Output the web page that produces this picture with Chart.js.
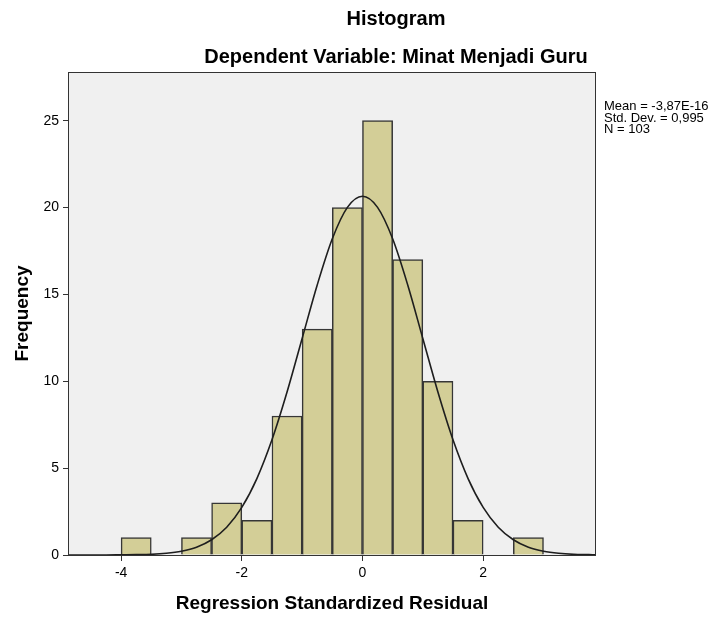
<!DOCTYPE html>
<html>
<head>
<meta charset="utf-8">
<script src="https://cdn.jsdelivr.net/npm/chart.js@4.4.0/dist/chart.umd.min.js"></script>
<style>
body{margin:0;background:#fff;}
canvas{display:block;}
</style>
</head>
<body>
<canvas id="histChart" width="717" height="618"></canvas>
<script>
// bin centres (width 0.5) and frequencies
const binCenters=[-3.75,-3.25,-2.75,-2.25,-1.75,-1.25,-0.75,-0.25,0.25,0.75,1.25,1.75,2.25,2.75];
const frequencies=[1,0,1,3,2,8,13,20,25,17,10,2,0,1];
// normal curve
const curveX=[-4.88,-4.75,-4.5,-4.25,-4,-3.75,-3.5,-3.25,-3,-2.75,-2.5,-2.25,-2,-1.75,-1.5,-1.25,-1,-0.75,-0.5,-0.25,0,0.25,0.5,0.75,1,1.25,1.5,1.75,2,2.25,2.5,2.75,3,3.25,3.5,3.75,3.87];
const curveY=[0,0,0,0,0.01,0.02,0.04,0.1,0.22,0.45,0.88,1.6,2.74,4.4,6.63,9.38,12.46,15.54,18.2,20.01,20.65,20.01,18.2,15.54,12.46,9.38,6.63,4.4,2.74,1.6,0.88,0.45,0.22,0.1,0.04,0.02,0.01];
const xTicks=[-4,-2,0,2];
const yTicks=[0,5,10,15,20,25];
const titleLines=['Histogram','Dependent Variable: Minat Menjadi Guru'];
const statsLines=['Mean = -3,87E-16','Std. Dev. = 0,995','N = 103'];

const FONT='"Liberation Sans", Arial, sans-serif';

const frame={
  id:'frame',
  beforeDraw(chart){
    const a=chart.chartArea, ctx=chart.ctx;
    ctx.save();
    ctx.fillStyle='#f0f0f0';
    ctx.fillRect(a.left,a.top,a.right-a.left,a.bottom-a.top);
    ctx.restore();
  },
  afterDraw(chart){
    const a=chart.chartArea, ctx=chart.ctx;
    ctx.save();
    ctx.strokeStyle='#333';
    ctx.lineWidth=1;
    ctx.strokeRect(Math.round(a.left)+0.5,Math.round(a.top)+0.5,Math.round(a.right-a.left)-1,Math.round(a.bottom-a.top));
    ctx.fillStyle='#000';
    ctx.textAlign='center';
    ctx.textBaseline='alphabetic';
    ctx.font='bold 20px '+FONT;
    ctx.fillText(titleLines[0],396,25);
    ctx.fillText(titleLines[1],396,63);
    ctx.textAlign='left';
    ctx.font='13px '+FONT;
    statsLines.forEach((t,i)=>ctx.fillText(t,604,110+i*11.7));
    ctx.restore();
  }
};

const ctx=document.getElementById('histChart').getContext('2d');
const histChart=new Chart(ctx,{
  data:{
    datasets:[{
      type:'line',
      data:curveX.map((x,i)=>({x:x,y:curveY[i]})),
      borderColor:'#1e1e1e',
      borderWidth:1.6,
      pointRadius:0,
      cubicInterpolationMode:'monotone',
      order:0
    },{
      type:'bar',
      data:binCenters.map((x,i)=>({x:x,y:frequencies[i]})),
      backgroundColor:'#d3ce97',
      borderColor:'#363636',
      borderWidth:1.5,
      categoryPercentage:1,
      barPercentage:1,
      order:1
    }]
  },
  options:{
    responsive:false,
    animation:false,
    layout:{padding:{top:72,right:121,left:0,bottom:0}},
    plugins:{legend:{display:false},tooltip:{enabled:false}},
    scales:{
      x:{
        type:'linear',
        min:-4.88,
        max:3.87,
        offset:false,
        afterBuildTicks(s){s.ticks=xTicks.map(v=>({value:v}));},
        afterFit(s){s.height=63;},
        grid:{offset:false,drawOnChartArea:false,drawTicks:true,tickLength:6,color:'#333'},
        border:{display:false},
        ticks:{color:'#000',padding:4,font:{family:FONT,size:14},maxRotation:0},
        title:{display:true,text:'Regression Standardized Residual',color:'#000',font:{family:FONT,size:19,weight:'bold'},padding:{top:0,bottom:3}}
      },
      y:{
        type:'linear',
        min:0,
        max:27.8,
        afterBuildTicks(s){s.ticks=yTicks.map(v=>({value:v}));},
        afterFit(s){s.width=68;},
        grid:{drawOnChartArea:false,drawTicks:true,tickLength:5,color:'#333'},
        border:{display:false},
        ticks:{color:'#000',padding:4,font:{family:FONT,size:14}},
        title:{display:true,text:'Frequency',color:'#000',font:{family:FONT,size:19,weight:'bold'},padding:{top:11,bottom:0}}
      }
    }
  },
  plugins:[frame]
});
</script>
</body>
</html>
